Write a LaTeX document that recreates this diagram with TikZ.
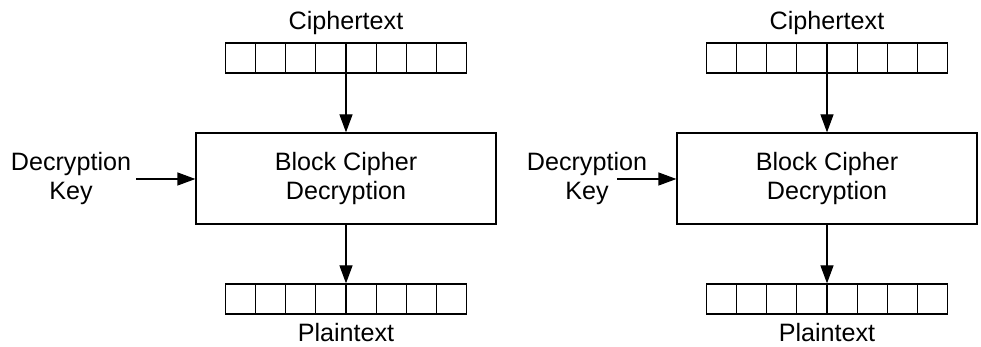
\documentclass[tikz,border=0pt]{standalone}
\usepackage{fontspec}
\setmainfont{Liberation Sans}
\usetikzlibrary{arrows.meta,calc,positioning}

\begin{document}
\begin{tikzpicture}[font=\fontsize{14.3}{17}\selectfont, line width=0.7pt]
  \tikzset{register/.style={draw, minimum width=4.82cm, minimum height=0.6cm, inner sep=0pt},
    cipherbox/.style={draw, align=center, minimum width=6cm, minimum height=1.82cm},
    keylabel/.style={align=center, inner sep=0pt},
    flow/.style={-{Triangle[length=0.36cm,width=0.26cm]}}}
  \useasboundingbox (0,0) rectangle (19.62,-6.94);
  \foreach \s/\cx/\kx/\ax in {a/6.92/1.42/2.72, b/16.54/11.74/12.34} {
    % block, registers and labels
    \node[cipherbox] (dec\s) at (\cx,-3.57) {Block Cipher\\Decryption};
    \node[register] (ct\s) at (\cx,-1.16) {};
    \node[register] (pt\s) at (\cx,-5.98) {};
    \node[anchor=base] (ctlbl\s) at (\cx,-0.6) {Ciphertext};
    \node[anchor=base] (ptlbl\s) at (\cx,-6.84) {Plaintext};
    \node[keylabel] (key\s) at (\kx,-3.57) {Decryption\\Key};
    \coordinate (kin\s) at (\ax,-3.58);
    % cells
    \foreach \k in {1,...,7} {
      \draw ($(ct\s.north west)!\k/8!(ct\s.north east)$) -- ($(ct\s.south west)!\k/8!(ct\s.south east)$);
      \draw ($(pt\s.north west)!\k/8!(pt\s.north east)$) -- ($(pt\s.south west)!\k/8!(pt\s.south east)$);
    }
    % arrows
    \draw[flow] (ct\s) -- (dec\s);
    \draw[flow] (dec\s) -- (pt\s);
    \draw[flow] (kin\s) -- (kin\s -| dec\s.west);
  }
\end{tikzpicture}
\end{document}
